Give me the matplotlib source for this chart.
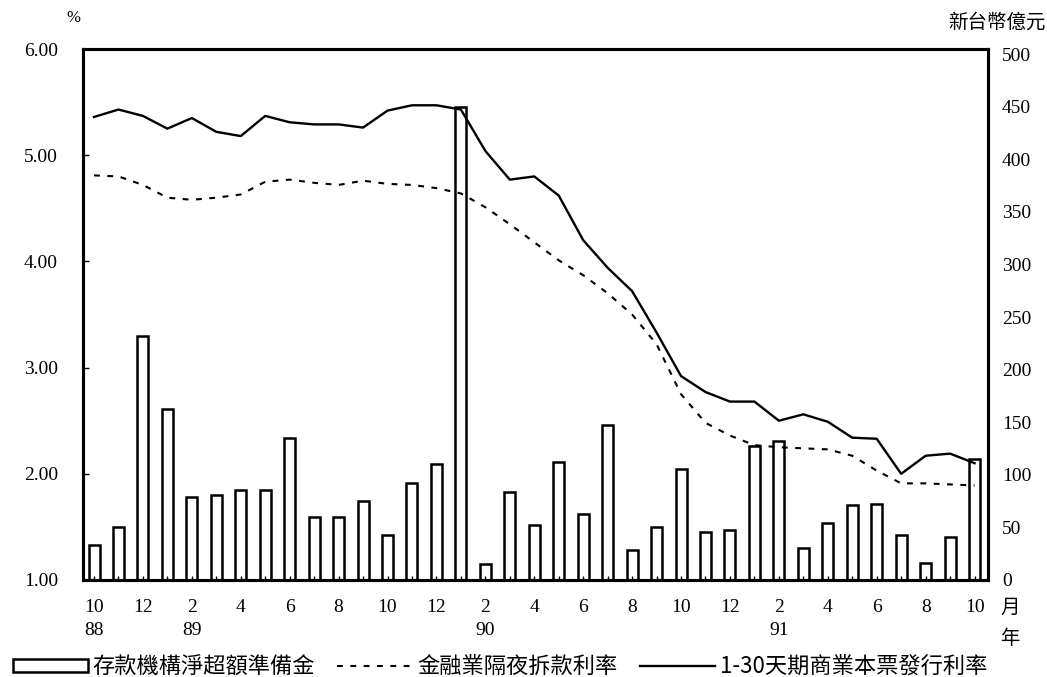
import matplotlib
matplotlib.use('Agg')
import matplotlib.pyplot as plt
from matplotlib.patches import Rectangle
from matplotlib.lines import Line2D
from matplotlib.transforms import blended_transform_factory

cjk = ['Noto Sans CJK TC', 'DejaVu Sans']
num_font = 'Liberation Serif'

# monthly, 88/10 .. 91/10
month_labels = ['10', '', '12', '', '2', '', '4', '', '6', '', '8', '', '10', '', '12', '',
                '2', '', '4', '', '6', '', '8', '', '10', '', '12', '',
                '2', '', '4', '', '6', '', '8', '', '10']
year_labels = ['88', '89', '90', '91']
year_pos = [0, 4, 16, 28]

# 存款機構淨超額準備金 (新台幣億元)
excess_reserves = [33, 50, 232, 163, 79, 81, 86, 86, 135, 60, 60, 75, 43, 92, 110, 450,
                   15, 84, 52, 112, 63, 147, 29, 50, 106, 46, 48, 127, 132,
                   30, 54, 71, 72, 43, 16, 41, 115]

# 金融業隔夜拆款利率 (%)
overnight_rate = [4.81, 4.80, 4.72, 4.60, 4.58, 4.60, 4.63, 4.75, 4.77, 4.74, 4.72, 4.76,
                  4.73, 4.72, 4.69, 4.64, 4.51, 4.35, 4.18, 4.01, 3.87, 3.70, 3.50, 3.22,
                  2.75, 2.48, 2.36, 2.27, 2.25, 2.24, 2.23, 2.17, 2.03, 1.91, 1.91, 1.90, 1.89]

# 1-30天期商業本票發行利率 (%)
cp_rate = [5.36, 5.43, 5.37, 5.25, 5.35, 5.22, 5.18, 5.37, 5.31, 5.29, 5.29, 5.26,
           5.42, 5.47, 5.47, 5.43, 5.04, 4.77, 4.80, 4.62, 4.20, 3.94, 3.72, 3.33,
           2.92, 2.77, 2.68, 2.68, 2.50, 2.56, 2.49, 2.34, 2.33, 2.00, 2.17, 2.19, 2.10]

x = list(range(len(month_labels)))

fig = plt.figure(figsize=(10.47, 6.77), dpi=100)
ax = fig.add_axes([83 / 1047, 1 - 580 / 677, (988 - 83) / 1047, (580 - 49) / 677])
ax2 = ax.twinx()

ax2.bar(x, excess_reserves, width=0.45, facecolor='white', edgecolor='black', linewidth=1.8)
ax2.set_ylim(0, 505)
ax2.set_yticks(range(0, 501, 50))
ax2.set_yticklabels([str(v) for v in range(0, 501, 50)], fontfamily=num_font, fontsize=14)
ax2.tick_params(axis='y', length=0, pad=10)

dash = (0, (2.8, 3.6))
ax.plot(x, overnight_rate, color='black', linewidth=1.5, linestyle=dash)
ax.plot(x, cp_rate, color='black', linewidth=1.7)
ax.set_zorder(ax2.get_zorder() + 1)
ax.patch.set_visible(False)

ax.set_xlim(-0.45, 36.55)
ax.set_ylim(1, 6)
ax.set_yticks([1, 2, 3, 4, 5, 6])
ax.set_yticklabels(['%.2f' % v for v in [1, 2, 3, 4, 5, 6]], fontfamily=num_font, fontsize=14)
ax.tick_params(axis='y', direction='in', length=4, width=1, pad=18)
ax.set_xticks(x)
ax.set_xticklabels(month_labels, fontfamily=num_font, fontsize=14)
ax.tick_params(axis='x', direction='in', length=3, width=1, pad=14)

for a in (ax, ax2):
    for s in a.spines.values():
        s.set_linewidth(2.2)

trans = blended_transform_factory(ax.transData, ax.transAxes)
for pos, lab in zip(year_pos, year_labels):
    ax.text(pos, -0.095, lab, transform=trans, ha='center', va='center',
            fontfamily=num_font, fontsize=14)

fig.text(1010 / 1047, 1 - 607 / 677, '月', ha='center', va='center', family=cjk, fontsize=14)
fig.text(1010 / 1047, 1 - 638 / 677, '年', ha='center', va='center', family=cjk, fontsize=14)
fig.text(73 / 1047, 1 - 18 / 677, '%', ha='center', va='center', fontfamily=num_font, fontsize=12)
fig.text(1046 / 1047, 1 - 22 / 677, '新台幣億元', ha='right', va='center', family=cjk, fontsize=14)

handles = [
    Rectangle((0, 0), 1, 1, facecolor='white', edgecolor='black', linewidth=1.8),
    Line2D([], [], color='black', linewidth=1.5, linestyle=dash),
    Line2D([], [], color='black', linewidth=1.7),
]
names = ['存款機構淨超額準備金', '金融業隔夜拆款利率', '1-30天期商業本票發行利率']
fig.legend(handles, names, loc='center', bbox_to_anchor=(500 / 1047, 1 - 667 / 677),
           ncol=3, frameon=False, handlelength=3.4, handleheight=0.55, handletextpad=0.2,
           columnspacing=1.0, prop={'family': cjk, 'size': 16}, borderpad=0, borderaxespad=0)

fig.savefig('out.png', dpi=100, facecolor='white')
